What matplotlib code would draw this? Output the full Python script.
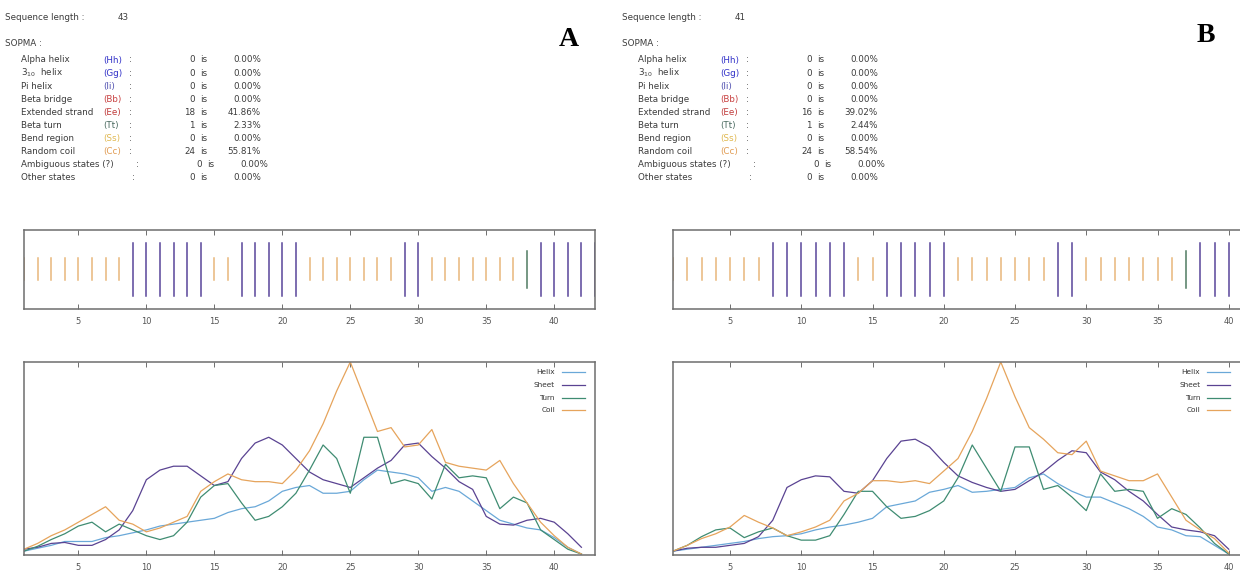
import matplotlib.pyplot as plt

W, H = 1240, 578

# ---------------- data: panel A (43 residues) ----------------
seq_len_a = 43
struct_a = "cccccccceeeeeecceeeeeccccccceecccccccteeeee"
counts_a = [0, 0, 0, 0, 18, 1, 0, 24, 0, 0]
pct_a = ["0.00%", "0.00%", "0.00%", "0.00%", "41.86%", "2.33%", "0.00%", "55.81%", "0.00%", "0.00%"]

helix_a = [0.02, 0.035, 0.05, 0.07, 0.07, 0.07, 0.09, 0.10, 0.115, 0.13,
           0.15, 0.16, 0.17, 0.18, 0.19, 0.22, 0.24, 0.25, 0.28, 0.33,
           0.35, 0.36, 0.32, 0.32, 0.33, 0.39, 0.44, 0.43, 0.42, 0.40,
           0.33, 0.35, 0.33, 0.28, 0.23, 0.18, 0.16, 0.14, 0.13, 0.09,
           0.04, 0.005]
sheet_a = [0.03, 0.04, 0.06, 0.065, 0.05, 0.05, 0.08, 0.13, 0.23, 0.39,
           0.44, 0.46, 0.46, 0.41, 0.36, 0.38, 0.50, 0.58, 0.61, 0.57,
           0.50, 0.43, 0.39, 0.37, 0.35, 0.40, 0.45, 0.49, 0.57, 0.58,
           0.51, 0.45, 0.38, 0.34, 0.20, 0.16, 0.155, 0.18, 0.19, 0.17,
           0.11, 0.04]
turn_a = [0.02, 0.045, 0.08, 0.11, 0.15, 0.17, 0.12, 0.16, 0.13, 0.10,
          0.08, 0.10, 0.17, 0.30, 0.36, 0.37, 0.27, 0.18, 0.20, 0.25,
          0.32, 0.44, 0.57, 0.50, 0.32, 0.61, 0.61, 0.37, 0.39, 0.37,
          0.29, 0.47, 0.40, 0.41, 0.40, 0.24, 0.30, 0.27, 0.13, 0.08,
          0.03, 0.005]
coil_a = [0.03, 0.06, 0.10, 0.13, 0.17, 0.21, 0.25, 0.18, 0.16, 0.12,
          0.14, 0.17, 0.20, 0.33, 0.38, 0.42, 0.39, 0.38, 0.38, 0.37,
          0.44, 0.54, 0.68, 0.85, 1.0, 0.82, 0.64, 0.66, 0.56, 0.57,
          0.65, 0.48, 0.46, 0.45, 0.44, 0.49, 0.37, 0.27, 0.17, 0.10,
          0.04, 0.005]

# ---------------- data: panel B (41 residues) ----------------
seq_len_b = 41
struct_b = "ccccccceeeeeecceeeeeccccccceecccccccteeec"
counts_b = [0, 0, 0, 0, 16, 1, 0, 24, 0, 0]
pct_b = ["0.00%", "0.00%", "0.00%", "0.00%", "39.02%", "2.44%", "0.00%", "58.54%", "0.00%", "0.00%"]

helix_b = [0.02, 0.03, 0.04, 0.05, 0.06, 0.07, 0.085, 0.095, 0.10, 0.11,
           0.13, 0.145, 0.155, 0.17, 0.19, 0.25, 0.265, 0.28, 0.325, 0.34,
           0.36, 0.325, 0.33, 0.34, 0.35, 0.40, 0.42, 0.37, 0.33, 0.30,
           0.30, 0.27, 0.24, 0.20, 0.145, 0.13, 0.10, 0.095, 0.05, 0.005]
sheet_b = [0.02, 0.035, 0.04, 0.04, 0.05, 0.06, 0.095, 0.18, 0.35, 0.39,
           0.41, 0.405, 0.33, 0.32, 0.385, 0.50, 0.59, 0.60, 0.56, 0.48,
           0.41, 0.376, 0.35, 0.33, 0.34, 0.385, 0.43, 0.49, 0.54, 0.53,
           0.43, 0.39, 0.33, 0.28, 0.21, 0.145, 0.13, 0.12, 0.10, 0.03]
turn_b = [0.02, 0.05, 0.095, 0.13, 0.14, 0.09, 0.12, 0.14, 0.10, 0.077,
          0.077, 0.10, 0.21, 0.33, 0.33, 0.25, 0.19, 0.20, 0.23, 0.28,
          0.40, 0.57, 0.45, 0.33, 0.56, 0.56, 0.34, 0.36, 0.30, 0.23,
          0.42, 0.33, 0.34, 0.33, 0.19, 0.24, 0.21, 0.14, 0.06, 0.005]
coil_b = [0.02, 0.05, 0.085, 0.11, 0.145, 0.205, 0.17, 0.14, 0.10, 0.12,
          0.145, 0.18, 0.28, 0.32, 0.385, 0.385, 0.376, 0.385, 0.37, 0.435,
          0.50, 0.64, 0.81, 1.0, 0.82, 0.66, 0.60, 0.53, 0.52, 0.59,
          0.435, 0.41, 0.385, 0.385, 0.42, 0.30, 0.18, 0.13, 0.085, 0.01]

state_names = ["Alpha helix", "3$_{10}$  helix", "Pi helix", "Beta bridge", "Extended strand",
               "Beta turn", "Bend region", "Random coil", "Ambiguous states (?)", "Other states"]
state_codes = ["(Hh)", "(Gg)", "(Ii)", "(Bb)", "(Ee)", "(Tt)", "(Ss)", "(Cc)", "", ""]
code_colors = ["#3030c8", "#3030c8", "#5050b0", "#c84040", "#c03a3a",
               "#4a6a60", "#e0b850", "#e09a50", "#444444", "#444444"]
ticks = [5, 10, 15, 20, 25, 30, 35, 40]

helix_col = "#6aa8d8"
sheet_col = "#5a4392"
turn_col = "#3f8c72"
coil_col = "#e6a45c"
bar_cols = {"e": "#58459a", "c": "#e8b77a", "t": "#4f7a62"}
bar_span = {"e": (0.16, 0.84), "c": (0.37, 0.64), "t": (0.27, 0.73)}
txt_col = "#3c3c3c"
edge_col = "#6e6e6e"

fig = plt.figure(figsize=(W / 100, H / 100), dpi=100)


def add_box(x0, y0, x1, y1):
    return fig.add_axes([x0 / W, 1 - y1 / H, (x1 - x0) / W, (y1 - y0) / H])


def style(ax, n):
    ax.set_xlim(1, n)
    ax.set_xticks(ticks)
    ax.set_yticks([])
    ax.tick_params(axis="x", direction="in", top=True, length=3.5, width=0.7,
                   color=edge_col, labelsize=6, labelcolor="#555555", pad=6)
    for s in ax.spines.values():
        s.set_color(edge_col)
        s.set_linewidth(1.1)


def put(x, y, s, **kw):
    kw.setdefault("color", txt_col)
    kw.setdefault("fontsize", 6.3)
    kw.setdefault("va", "center")
    fig.text(x / W, 1 - y / H, s, **kw)


def text_block(x0, seq_len, counts, pcts):
    put(x0, 18, "Sequence length :")
    put(x0 + 113, 18, str(seq_len))
    put(x0, 44, "SOPMA :")
    for i in range(10):
        y = 60 + 13.05 * i
        put(x0 + 16, y, state_names[i])
        shift = 0
        colon = x0 + 124
        if i == 8:
            shift, colon = 7, x0 + 131
        elif i == 9:
            colon = x0 + 127
        if state_codes[i]:
            put(x0 + 98, y, state_codes[i], color=code_colors[i])
        put(colon, y, ":")
        put(x0 + 190 + shift, y, str(counts[i]), ha="right")
        put(x0 + 195 + shift, y, "is")
        put(x0 + 256 + shift, y, pcts[i], ha="right")


def bars(ax, struct):
    for i, s in enumerate(struct):
        lo, hi = bar_span[s]
        ax.axvline(i + 1, lo, hi, color=bar_cols[s], lw=1.1)
    ax.set_ylim(0, 1)


def curves(ax, helix, sheet, turn, coil, tx, l0, l1):
    x = list(range(1, len(helix) + 1))
    series = [("Helix", helix, helix_col), ("Sheet", sheet, sheet_col),
              ("Turn", turn, turn_col), ("Coil", coil, coil_col)]
    for name, vals, col in series:
        ax.plot(x, vals, color=col, lw=0.9)
    ax.set_ylim(0, 1.0)
    for j, (name, vals, col) in enumerate(series):
        yy = 0.948 - 0.066 * j
        ax.text(tx, yy, name, transform=ax.transAxes, ha="right", va="center",
                fontsize=5.3, color="#333333")
        ax.plot([l0, l1], [yy, yy], transform=ax.transAxes, color=col, lw=0.9)


# panel A
text_block(5, seq_len_a, counts_a, pct_a)
fig.text(569 / W, 1 - 40 / H, "A", family="Liberation Serif", weight="bold",
         fontsize=20, ha="center", va="center")
axa1 = add_box(24, 230, 595, 309)
style(axa1, seq_len_a)
bars(axa1, struct_a)
axa2 = add_box(24, 362, 595, 555)
style(axa2, seq_len_a)
curves(axa2, helix_a, sheet_a, turn_a, coil_a, 0.93, 0.942, 0.982)

# panel B (right border falls outside the image)
text_block(622, seq_len_b, counts_b, pct_b)
fig.text(1206 / W, 1 - 36 / H, "B", family="Liberation Serif", weight="bold",
         fontsize=20, ha="center", va="center")
axb1 = add_box(673, 230, 1243, 309)
style(axb1, seq_len_b)
bars(axb1, struct_b)
axb2 = add_box(673, 362, 1243, 555)
style(axb2, seq_len_b)
curves(axb2, helix_b, sheet_b, turn_b, coil_b, 0.925, 0.937, 0.977)

fig.savefig("out.png", dpi=100)
